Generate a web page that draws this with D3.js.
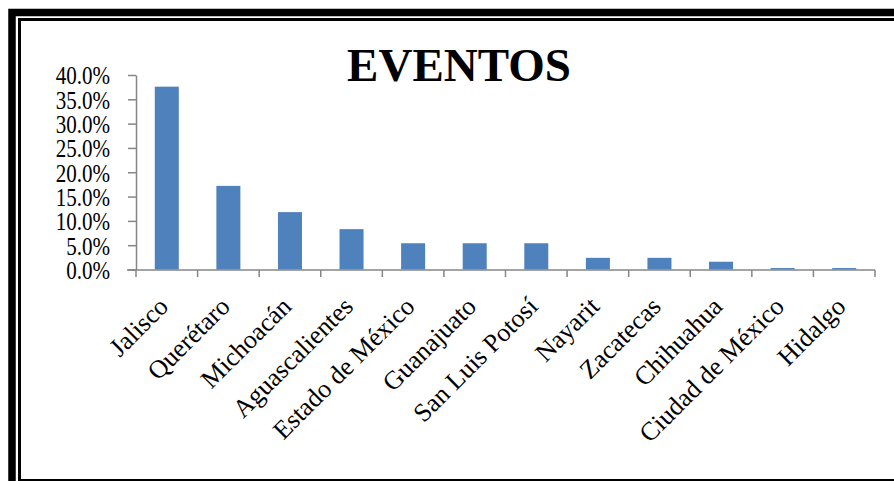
<!DOCTYPE html>
<html><head><meta charset="utf-8">
<script src="https://cdn.jsdelivr.net/npm/d3@7"></script>
<style>body{margin:0;background:#fff;}svg{display:block;}</style>
</head><body>
<svg id="c" width="894" height="481"></svg>
<script>
const categories = ["Jalisco","Querétaro","Michoacán","Aguascalientes","Estado de México","Guanajuato","San Luis Potosí","Nayarit","Zacatecas","Chihuahua","Ciudad de México","Hidalgo"];
const values = [0.376, 0.172, 0.118, 0.083, 0.054, 0.054, 0.054, 0.024, 0.024, 0.016, 0.003, 0.003];
const yTicks = [0, 0.05, 0.10, 0.15, 0.20, 0.25, 0.30, 0.35, 0.40];
const title = "EVENTOS";

const FONT = "'Liberation Serif', 'Times New Roman', serif";
const svg = d3.select("#c");
// frame
svg.append("rect").attr("x",12).attr("y",12.5).attr("width",1000).attr("height",1000)
  .attr("fill","none").attr("stroke","#000").attr("stroke-width",7.5);
svg.append("rect").attr("x",19.5).attr("y",19.5).attr("width",1000).attr("height",461)
  .attr("fill","none").attr("stroke","#000").attr("stroke-width",3);

const x = d3.scaleBand().domain(categories).range([136, 875]).paddingInner(0.61).paddingOuter(0.305);
const xb = d3.scaleBand().domain(categories).range([136, 875]);
const y = d3.scaleLinear().domain([0, 0.40]).range([269.5, 75]);

svg.append("text").attr("x",459).attr("y",81).attr("text-anchor","middle")
  .attr("font-family",FONT).attr("font-weight","bold")
  .attr("font-size",47).text(title);

// bars
svg.selectAll("rect.bar").data(values).enter().append("rect").attr("class","bar")
  .attr("x",(d,i)=>x(categories[i])).attr("width",x.bandwidth())
  .attr("y",d=>y(d)).attr("height",d=>y(0)-y(d)).attr("fill","#4F81BD");

// y axis
const sx = 0.86;
const ya = svg.append("g").attr("transform","translate(136,0)")
  .call(d3.axisLeft(y).tickValues(yTicks).tickFormat(d3.format(".1%")).tickSize(8).tickSizeOuter(0));
ya.select(".domain").attr("stroke","#868686").attr("stroke-width",1.5);
ya.selectAll(".tick line").attr("stroke","#868686").attr("stroke-width",1.5);
ya.selectAll("text").attr("font-family",FONT)
  .attr("font-size",24.5).attr("fill","#000").attr("x",-26/sx).attr("dy","0.36em")
  .attr("transform",`scale(${sx},1)`);

// x axis
const xa = svg.append("g").attr("transform","translate(0,270)");
xa.append("line").attr("x1",127).attr("x2",875).attr("y1",0).attr("y2",0).attr("stroke","#868686").attr("stroke-width",1.5);
const tickPos = categories.map(c=>xb(c)).concat([xb.range()[1]]);
xa.selectAll("line.t").data(tickPos).enter().append("line").attr("class","t")
  .attr("x1",d=>d).attr("x2",d=>d).attr("y1",0).attr("y2",7).attr("stroke","#868686").attr("stroke-width",1.5);
xa.selectAll("text.lab").data(categories).enter().append("text").attr("class","lab")
  .attr("transform",d=>`translate(${xb(d)+xb.bandwidth()/2+3},${38}) rotate(-45)`)
  .attr("text-anchor","end")
  .attr("font-family",FONT).attr("font-size",26)
  .attr("fill","#000").text(d=>d);
</script>
</body></html>
